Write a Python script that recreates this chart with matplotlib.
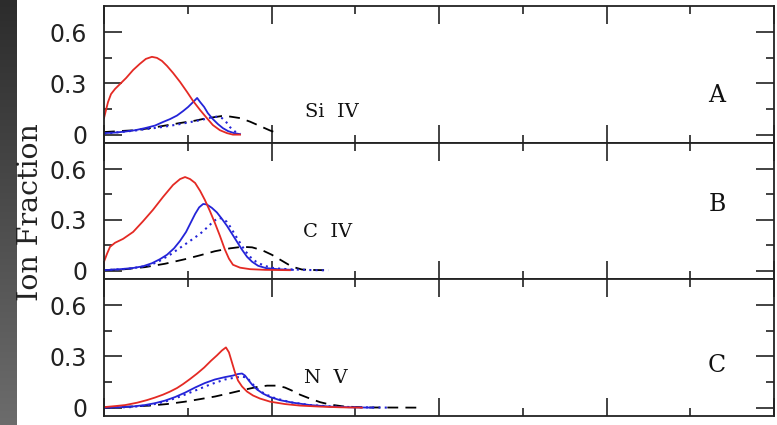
import numpy as np
import matplotlib
matplotlib.use("Agg")
import matplotlib.pyplot as plt
from matplotlib.ticker import MultipleLocator, FixedLocator

# ion fraction curves vs log T, one panel per ion
# panel A: Si IV
red_a_x = [4.000, 4.006, 4.012, 4.021, 4.033, 4.048, 4.066, 4.087, 4.107, 4.125, 4.143, 4.158, 4.173,
           4.188, 4.206, 4.227, 4.248, 4.266, 4.287, 4.307, 4.325, 4.346, 4.367, 4.385, 4.406]
red_a_y = [0.097, 0.144, 0.191, 0.238, 0.268, 0.297, 0.332, 0.379, 0.415, 0.444, 0.456, 0.450, 0.432,
           0.403, 0.362, 0.309, 0.250, 0.197, 0.144, 0.097, 0.056, 0.026, 0.009, 0.000, 0.000]
blue_a_x = [4.000, 4.033, 4.063, 4.093, 4.122, 4.152, 4.176, 4.197, 4.218, 4.236, 4.251, 4.266, 4.278,
            4.287, 4.299, 4.310, 4.325, 4.340, 4.355, 4.370, 4.388, 4.406]
blue_a_y = [0.009, 0.012, 0.018, 0.026, 0.038, 0.053, 0.074, 0.091, 0.112, 0.138, 0.162, 0.191, 0.215,
            0.191, 0.162, 0.126, 0.091, 0.062, 0.038, 0.021, 0.009, 0.003]
dot_a_x = [4.000, 4.048, 4.093, 4.137, 4.182, 4.227, 4.272, 4.301, 4.325, 4.340, 4.352, 4.364, 4.376,
           4.391, 4.406]
dot_a_y = [0.006, 0.015, 0.024, 0.035, 0.047, 0.062, 0.079, 0.091, 0.103, 0.106, 0.097, 0.076, 0.044,
           0.018, 0.006]
dash_a_x = [4.000, 4.048, 4.093, 4.137, 4.182, 4.227, 4.272, 4.301, 4.331, 4.352, 4.376, 4.406, 4.436,
            4.466, 4.496, 4.525]
dash_a_y = [0.015, 0.021, 0.026, 0.038, 0.053, 0.068, 0.082, 0.094, 0.103, 0.109, 0.106, 0.097, 0.076,
            0.050, 0.024, 0.003]

# panel B: C IV
red_b_x = [4.000, 4.009, 4.018, 4.033, 4.057, 4.087, 4.116, 4.146, 4.176, 4.206, 4.227, 4.242, 4.257,
           4.272, 4.287, 4.301, 4.316, 4.331, 4.346, 4.361, 4.373, 4.385, 4.406, 4.436, 4.481, 4.555]
red_b_y = [0.053, 0.100, 0.141, 0.165, 0.188, 0.229, 0.291, 0.359, 0.435, 0.506, 0.541, 0.553, 0.541,
           0.518, 0.471, 0.418, 0.353, 0.282, 0.206, 0.124, 0.071, 0.035, 0.018, 0.009, 0.005, 0.003]
blue_b_x = [4.000, 4.048, 4.087, 4.116, 4.143, 4.167, 4.188, 4.209, 4.227, 4.245, 4.260, 4.272, 4.284,
            4.296, 4.307, 4.322, 4.337, 4.352, 4.367, 4.382, 4.397, 4.412, 4.427, 4.442, 4.460, 4.484,
            4.525, 4.564]
blue_b_y = [0.003, 0.009, 0.016, 0.026, 0.044, 0.068, 0.094, 0.132, 0.176, 0.229, 0.288, 0.335, 0.374,
            0.394, 0.391, 0.371, 0.344, 0.306, 0.265, 0.218, 0.171, 0.124, 0.082, 0.053, 0.029, 0.015,
            0.008, 0.005]
dot_b_x = [4.000, 4.078, 4.137, 4.167, 4.197, 4.227, 4.257, 4.287, 4.310, 4.328, 4.343, 4.355, 4.367,
           4.379, 4.391, 4.406, 4.421, 4.436, 4.454, 4.478, 4.510, 4.555, 4.615, 4.669]
dot_b_y = [0.003, 0.012, 0.032, 0.059, 0.094, 0.135, 0.176, 0.218, 0.259, 0.294, 0.312, 0.306, 0.288,
           0.253, 0.212, 0.165, 0.118, 0.082, 0.053, 0.029, 0.014, 0.008, 0.004, 0.002]
dash_b_x = [4.000, 4.063, 4.122, 4.182, 4.242, 4.287, 4.331, 4.376, 4.412, 4.442, 4.472, 4.501, 4.531,
            4.561, 4.591, 4.630, 4.669]
dash_b_y = [0.003, 0.009, 0.021, 0.041, 0.068, 0.091, 0.115, 0.132, 0.141, 0.138, 0.121, 0.094, 0.059,
            0.024, 0.007, 0.004, 0.003]

# panel C: N V
red_c_x = [4.000, 4.033, 4.063, 4.099, 4.128, 4.152, 4.176, 4.197, 4.218, 4.236, 4.257, 4.278, 4.299,
           4.319, 4.337, 4.352, 4.364, 4.373, 4.382, 4.391, 4.400, 4.412, 4.427, 4.445, 4.466, 4.496,
           4.540, 4.585, 4.645, 4.704, 4.770]
red_c_y = [0.003, 0.009, 0.015, 0.029, 0.044, 0.059, 0.076, 0.094, 0.115, 0.138, 0.168, 0.200, 0.235,
           0.274, 0.306, 0.335, 0.353, 0.324, 0.265, 0.206, 0.159, 0.124, 0.094, 0.071, 0.053, 0.035,
           0.021, 0.012, 0.006, 0.002, 0.000]
blue_c_x = [4.000, 4.048, 4.087, 4.122, 4.152, 4.182, 4.212, 4.242, 4.272, 4.301, 4.331, 4.361, 4.385,
            4.400, 4.412, 4.421, 4.430, 4.442, 4.457, 4.475, 4.496, 4.525, 4.564, 4.615, 4.675, 4.734,
            4.803]
blue_c_y = [0.000, 0.003, 0.007, 0.015, 0.026, 0.041, 0.062, 0.088, 0.118, 0.144, 0.165, 0.179, 0.188,
            0.197, 0.200, 0.188, 0.165, 0.135, 0.106, 0.082, 0.062, 0.044, 0.029, 0.015, 0.006, 0.002,
            0.000]
dot_c_x = [4.000, 4.078, 4.137, 4.182, 4.227, 4.272, 4.316, 4.361, 4.391, 4.412, 4.427, 4.442, 4.460,
           4.481, 4.510, 4.555, 4.615, 4.690, 4.764, 4.854]
dot_c_y = [0.000, 0.003, 0.015, 0.035, 0.065, 0.100, 0.135, 0.165, 0.176, 0.182, 0.176, 0.141, 0.106,
           0.079, 0.056, 0.032, 0.015, 0.006, 0.002, 0.000]
dash_c_x = [4.000, 4.078, 4.137, 4.188, 4.242, 4.287, 4.331, 4.376, 4.421, 4.457, 4.487, 4.516, 4.540,
            4.561, 4.585, 4.615, 4.645, 4.675, 4.719, 4.794, 4.943]
dash_c_y = [0.000, 0.006, 0.012, 0.021, 0.035, 0.050, 0.065, 0.085, 0.106, 0.121, 0.129, 0.129, 0.118,
            0.100, 0.076, 0.053, 0.032, 0.018, 0.006, 0.001, 0.000]

ions = ["Si IV", "C IV", "N V"]
letters = ["A", "B", "C"]
yticks = [0, 0.3, 0.6]
ytick_labels = ["0", "0.3", "0.6"]

panels = [
    (red_a_x, red_a_y, blue_a_x, blue_a_y, dot_a_x, dot_a_y, dash_a_x, dash_a_y),
    (red_b_x, red_b_y, blue_b_x, blue_b_y, dot_b_x, dot_b_y, dash_b_x, dash_b_y),
    (red_c_x, red_c_y, blue_c_x, blue_c_y, dot_c_x, dot_c_y, dash_c_x, dash_c_y),
]
ion_pos = [(4.681, 0.132), (4.666, 0.229), (4.663, 0.176)]
letter_pos = [(5.830, 0.232), (5.830, 0.388), (5.830, 0.247)]

RED = "#e42a24"
BLUE = "#2424d8"

fig = plt.figure(figsize=(7.77, 4.25), dpi=100)

# dark slide edge on the left
strip = fig.add_axes([0, 0, 17 / 777, 1])
grad = np.linspace(0, 1, 256).reshape(-1, 1)
strip.imshow(grad, aspect="auto", cmap=matplotlib.colors.LinearSegmentedColormap.from_list(
    "edge", ["#2c2c2c", "#6c6c6c"]), extent=[0, 1, 0, 1], origin="upper")
strip.axis("off")

left = 104 / 777
width = 670 / 777
tops = [6, 143, 279]
bots = [143, 279, 416]

for i, (rx, ry, bx, by, dx, dy, kx, ky) in enumerate(panels):
    ax = fig.add_axes([left, 1 - bots[i] / 425, width, (bots[i] - tops[i]) / 425])
    ax.plot(kx, ky, color="black", lw=1.3, dashes=(6, 4))
    ax.plot(dx, dy, color=BLUE, lw=1.5, ls=(0, (1, 2)))
    ax.plot(bx, by, color=BLUE, lw=1.3)
    ax.plot(rx, ry, color=RED, lw=1.3)

    ax.set_xlim(4.0, 6.0)
    ax.set_ylim(-0.049, 0.754)
    ax.xaxis.set_major_locator(MultipleLocator(0.5))
    ax.xaxis.set_minor_locator(MultipleLocator(0.25))
    ax.yaxis.set_major_locator(FixedLocator(yticks))
    ax.yaxis.set_minor_locator(FixedLocator([0.15, 0.45]))
    ax.set_yticklabels(ytick_labels)
    ax.tick_params(which="both", direction="in", top=True, right=True, width=1.2, color="#222222")
    ax.tick_params(which="major", length=13)
    ax.tick_params(which="minor", length=6)
    ax.tick_params(axis="y", labelsize=17, pad=12, labelcolor="#222222")
    ax.tick_params(axis="x", labelbottom=False)
    for s in ax.spines.values():
        s.set_linewidth(1.3)
        s.set_color("#222222")

    ax.text(*ion_pos[i], ions[i].replace(" ", "  "), family="DejaVu Serif", fontsize=14,
            ha="center", va="center", color="#111111")
    ax.text(*letter_pos[i], letters[i], family="DejaVu Serif", fontsize=17,
            ha="center", va="center", color="#111111")

fig.text(31 / 777, 1 - 212 / 425, "Ion Fraction", family="DejaVu Serif", fontsize=20.5,
         rotation=90, ha="center", va="center", color="#222222")

fig.savefig("out.png", dpi=100)
